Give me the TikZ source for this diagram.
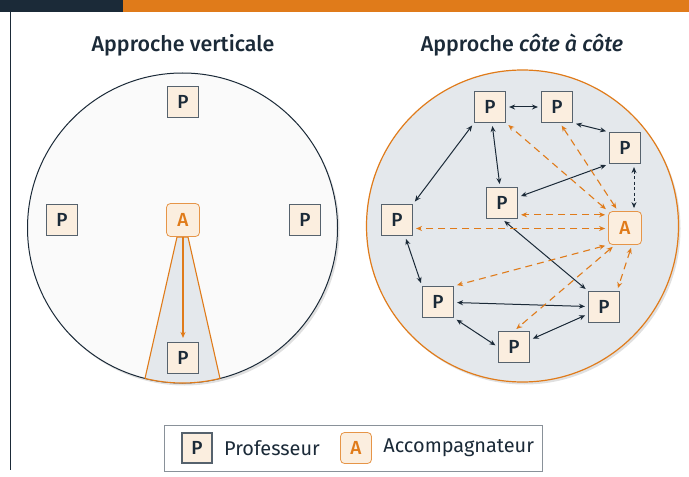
\documentclass[tikz,border=0pt]{standalone}
\usepackage{fontspec}
\setmainfont{Fira Sans}
\newfontfamily\titlefont{Fira Sans Medium}
\usepackage{tikz}
\usetikzlibrary{arrows.meta,positioning}

\definecolor{navy}{HTML}{1B2A38}
\definecolor{orng}{HTML}{E07B1A}
\definecolor{peach}{HTML}{FBEEDF}
\definecolor{fog}{HTML}{E4E8EC}
\definecolor{edgegray}{HTML}{56626D}

\tikzset{
  prof/.style={draw=edgegray, line width=1.1bp, fill=peach, minimum size=31bp,
    inner sep=0pt, text=navy, font=\titlefont\fontsize{19}{19}\selectfont},
  accomp/.style={draw=orng!80, line width=0.8bp, fill=peach, rounded corners=4bp,
    minimum size=33bp, inner sep=0pt, text=orng, font=\titlefont\fontsize{19}{19}\selectfont},
  link/.style={<->, navy, line width=1bp, shorten >=3bp, shorten <=3bp},
  olink/.style={<->, orng, line width=1.1bp, dash pattern=on 7bp off 5bp,
    shorten >=3bp, shorten <=3bp},
  title/.style={text=navy, font=\titlefont\fontsize{21.5}{21.5}\selectfont},
  legtext/.style={text=navy, font=\fontsize{20}{20}\selectfont}
}

\begin{document}
\begin{tikzpicture}[x=1bp, y=-1bp, >={Stealth[length=6bp,width=5bp]}]
\useasboundingbox (0,0) rectangle (689,477);
\fill[white] (0,0) rectangle (689,477);
% top band and left rule
\fill[navy] (0,0) rectangle (123,12);
\fill[orng] (123,0) rectangle (689,12);
\draw[navy, line width=1bp] (10,12) -- (10,470);

% titles
\node[title] (t_left) at (183,45) {Approche verticale};
\node[title] (t_right) at (522,45) {Approche \textit{côte à côte}};

% ---- left: vertical approach
\coordinate (lc) at (182.5,228);
\fill[black!12] (184.5,230.5) circle (155);
\draw[navy, fill=black!2, line width=1bp] (lc) circle (155);
\path (lc) ++(76:155) coordinate (cone_r) (lc) ++(104:155) coordinate (cone_l);
\filldraw[draw=orng, fill=fog, line width=1.1bp, line join=round]
  (188,237) -- (cone_r) arc[start angle=76, end angle=104, radius=155]
  -- (177,237) -- cycle;

\node[prof] (v_1) at (183,102) {P};
\node[prof] (v_2) at (62,220) {P};
\node[prof] (v_3) at (305,220) {P};
\node[prof] (v_4) at (183,358) {P};
\node[accomp] (v_a) at (183,220) {A};
\draw[->, orng, line width=1.1bp, shorten >=4bp] (v_a) -- (v_4);

% ---- right: side by side
\fill[black!12] (524.5,228.5) circle (156);
\draw[orng, fill=fog, line width=1.2bp] (522.5,226) circle (156);

\node[prof] (p_1) at (490,107) {P};
\node[prof] (p_2) at (557,107) {P};
\node[prof] (p_3) at (625,148) {P};
\node[prof] (p_4) at (502,203) {P};
\node[prof] (p_5) at (397,220) {P};
\node[prof] (p_6) at (438,302) {P};
\node[prof] (p_7) at (604,307) {P};
\node[prof] (p_8) at (514,347) {P};
\node[accomp] (a_1) at (625,228) {A};

% between teachers
\draw[link] (p_1) -- (p_2);
\draw[link] (p_2.south east) -- (p_3.north west);
\draw[link] (p_1.south west) -- (p_5.north east);
\draw[link] (p_1) -- (p_4);
\draw[link] (p_3.south west) -- (p_4);
\draw[link] (p_4.south) -- (p_7.north west);
\draw[link] ([xshift=8bp]p_5.south) -- (p_6.north west);
\draw[link] (p_6) -- (p_7);
\draw[link] (p_6.south east) -- (p_8.west);
\draw[link] (p_8) -- (p_7);
\draw[link, dash pattern=on 3bp off 2.5bp] ([xshift=9bp]p_3.south) -- ([xshift=9bp]a_1.north);

% companion to teachers
\draw[olink] (a_1.north west) -- (p_1.south east);
\draw[olink] ([xshift=-7bp]a_1.north) -- ([xshift=3bp]p_2.south);
\draw[olink] (a_1.142) -- (p_4.east |- a_1.142);
\draw[olink] ([yshift=-0.5bp]a_1.west) coordinate (a_w) -- (p_5.east |- a_w);
\draw[olink] (a_1.south west) -- (p_6.north east);
\draw[olink] ([xshift=-10bp]a_1.south) -- (p_8.north);
\draw[olink] ([xshift=7bp]a_1.south) -- ([xshift=13bp]p_7.north);

% ---- legend
\node[draw=edgegray!70, line width=1bp, fill=white, minimum width=378bp,
  minimum height=46bp] (legend) at (353,448) {};
\node[prof, minimum size=30bp] (leg_p) at (197,448) {P};
\node[legtext, right=8bp of leg_p] (leg_pt) {Professeur};
\node[accomp, minimum size=31bp] (leg_a) at (356,448) {A};
\node[legtext, right=8bp of leg_a] (leg_at) {Accompagnateur};
\end{tikzpicture}
\end{document}
